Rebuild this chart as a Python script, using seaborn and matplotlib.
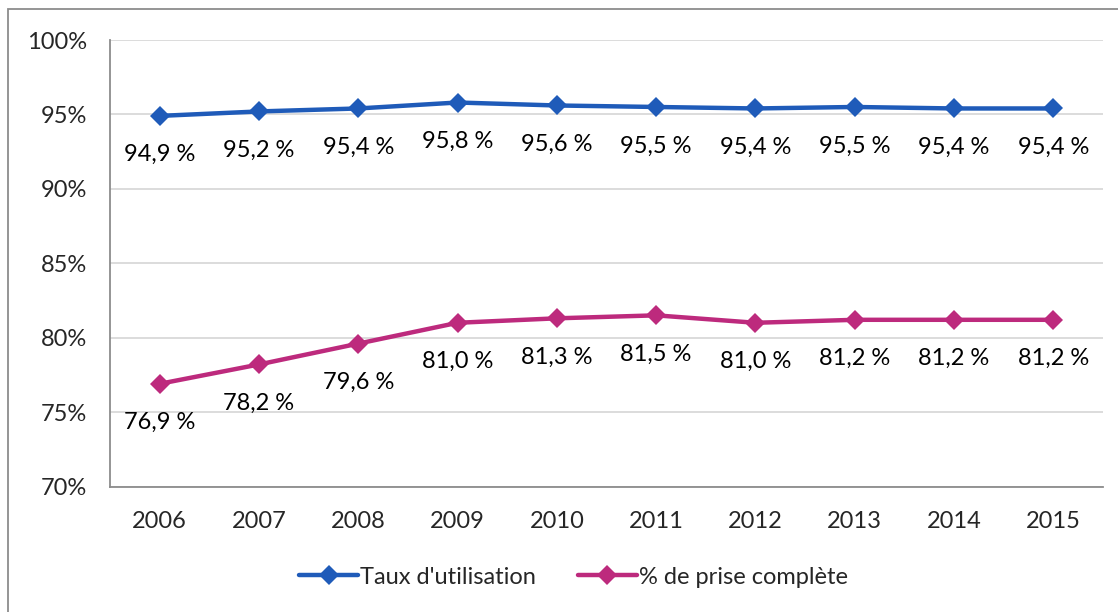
import numpy as np
import pandas as pd
import seaborn as sns
import matplotlib.pyplot as plt
from matplotlib.patches import Rectangle
from matplotlib.ticker import FixedLocator

# Values
years = ["2006", "2007", "2008", "2009", "2010", "2011", "2012", "2013", "2014", "2015"]
taux_utilisation = [94.9, 95.2, 95.4, 95.8, 95.6, 95.5, 95.4, 95.5, 95.4, 95.4]
prise_complete = [76.9, 78.2, 79.6, 81.0, 81.3, 81.5, 81.0, 81.2, 81.2, 81.2]
series_names = ["Taux d'utilisation", "% de prise complète"]
y_ticks = [70, 75, 80, 85, 90, 95, 100]

colors = {"Taux d'utilisation": "#1F5BB9", "% de prise complète": "#BD2A7D"}

sns.set_style("white")
plt.rcParams["font.family"] = ["Lato", "DejaVu Sans"]
fs = 17

pos = np.arange(len(years))
df = pd.DataFrame({
    "pos": np.concatenate([pos, pos]),
    "value": taux_utilisation + prise_complete,
    "serie": [series_names[0]] * len(years) + [series_names[1]] * len(years),
})

fig = plt.figure(figsize=(11.18, 6.12), dpi=100)
ax = fig.add_axes([110 / 1118, 1 - 486.5 / 612, (1103 - 110) / 1118, (486.5 - 40) / 612])

sns.lineplot(data=df, x="pos", y="value", hue="serie", palette=colors,
             marker="D", markersize=10.5, markeredgewidth=0, linewidth=3.2,
             ax=ax, legend=False)

# Data labels (below every point)
for name, vals in zip(series_names, [taux_utilisation, prise_complete]):
    for x, v in zip(pos, vals):
        ax.annotate(f"{v:.1f} %".replace(".", ","), (x, v), xytext=(0, -28),
                    textcoords="offset points", ha="center", va="center",
                    fontsize=fs, color="black")

ax.set_xlim(-0.5, len(years) - 0.5)
ax.set_ylim(70, 100)
ax.set_yticks(y_ticks)
ax.set_yticklabels([f"{t}%" for t in y_ticks], fontsize=fs)
ax.xaxis.set_major_locator(FixedLocator(np.arange(-0.5, len(years), 1)))
ax.set_xticklabels([])
ax.set_xticks(pos, minor=True)
ax.set_xticklabels(years, minor=True, fontsize=fs)
ax.tick_params(axis="x", which="major", length=4.5, width=1.2, color="#8C8C8C", direction="out")
ax.tick_params(axis="x", which="minor", length=0, pad=18)
ax.tick_params(axis="y", length=4.5, width=1.2, color="#8C8C8C", direction="out", pad=12)
ax.set_xlabel("")
ax.set_ylabel("")

ax.grid(axis="y", color="#D9D9D9", linewidth=1.3)
ax.set_axisbelow(True)
for s in ["top", "right"]:
    ax.spines[s].set_visible(False)
for s in ["left", "bottom"]:
    ax.spines[s].set_color("#8C8C8C")
    ax.spines[s].set_linewidth(1.3)

# Legend
handles = [plt.Line2D([], [], color=colors[n], marker="D", markersize=10.5,
                      markeredgewidth=0, linewidth=3.2) for n in series_names]
fig.legend(handles, series_names, loc="center", bbox_to_anchor=(0.513, 1 - 577 / 612),
           ncol=2, frameon=False, fontsize=fs, handlelength=2.5,
           handletextpad=0.1, columnspacing=1.75)

# Outer chart frame (cropped on right/bottom)
fig.add_artist(Rectangle((8 / 1118, -0.1), 1.2, 1.1 - 9 / 612, transform=fig.transFigure,
                         fill=False, edgecolor="#8C8C8C", linewidth=1.3))

fig.savefig("out.png", dpi=100)
